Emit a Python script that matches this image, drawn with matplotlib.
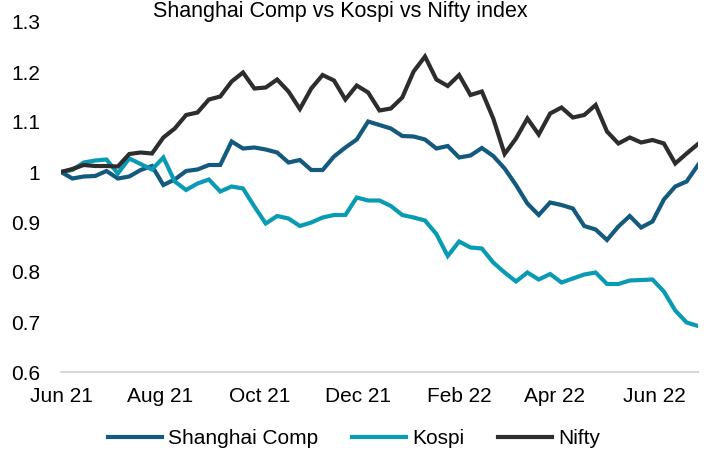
import matplotlib
matplotlib.use("Agg")
import matplotlib.pyplot as plt
import pandas as pd

# weekly closes, rebased to 1 at the first week
start = "2021-06-04"
shanghai = [1.000, 0.987, 0.991, 0.992, 1.002, 0.987, 0.991, 1.004, 1.012, 0.974,
            0.985, 1.002, 1.005, 1.014, 1.014, 1.061, 1.047, 1.049, 1.045, 1.039,
            1.019, 1.024, 1.004, 1.004, 1.031, 1.049, 1.065, 1.101, 1.094, 1.087,
            1.072, 1.071, 1.065, 1.047, 1.052, 1.029, 1.033, 1.048, 1.032, 1.007,
            0.974, 0.937, 0.914, 0.939, 0.934, 0.927, 0.892, 0.885, 0.864, 0.891,
            0.912, 0.889, 0.901, 0.945, 0.971, 0.981, 1.014]
kospi = [1.000, 1.004, 1.019, 1.023, 1.025, 0.997, 1.027, 1.016, 1.005, 1.029,
         0.981, 0.964, 0.977, 0.985, 0.961, 0.971, 0.967, 0.931, 0.897, 0.912,
         0.907, 0.892, 0.899, 0.909, 0.914, 0.914, 0.949, 0.943, 0.943, 0.932,
         0.914, 0.909, 0.903, 0.876, 0.832, 0.861, 0.849, 0.847, 0.819, 0.799,
         0.781, 0.799, 0.785, 0.796, 0.779, 0.787, 0.795, 0.799, 0.776, 0.776,
         0.783, 0.784, 0.785, 0.761, 0.723, 0.699, 0.692]
nifty = [1.000, 1.006, 1.014, 1.012, 1.012, 1.011, 1.036, 1.039, 1.037, 1.069,
         1.087, 1.114, 1.119, 1.145, 1.151, 1.181, 1.199, 1.167, 1.169, 1.185,
         1.161, 1.126, 1.167, 1.194, 1.183, 1.145, 1.173, 1.159, 1.123, 1.127,
         1.149, 1.201, 1.231, 1.185, 1.172, 1.194, 1.154, 1.161, 1.107, 1.036,
         1.067, 1.107, 1.075, 1.117, 1.129, 1.109, 1.114, 1.134, 1.081, 1.057,
         1.069, 1.059, 1.064, 1.057, 1.017, 1.037, 1.056]

dates = pd.date_range(start, periods=len(nifty), freq="7D")
tick_dates = [dates[0] + pd.DateOffset(months=2 * k) for k in range(7)]
tick_labels = [d.strftime("%b %y") for d in tick_dates]
yticks = [0.6, 0.7, 0.8, 0.9, 1.0, 1.1, 1.2, 1.3]
ylabels = ["0.6", "0.7", "0.8", "0.9", "1", "1.1", "1.2", "1.3"]

plt.rcParams["font.family"] = ["Liberation Sans", "DejaVu Sans"]

fig = plt.figure(figsize=(7.05, 4.5), dpi=100)
ax = fig.add_axes([61 / 705, 1 - 372 / 450, 637 / 705, 350 / 450])

ax.plot(dates, shanghai, color="#135a7e", lw=3, label="Shanghai Comp", solid_joinstyle="miter")
ax.plot(dates, kospi, color="#0a9bb4", lw=3, label="Kospi", solid_joinstyle="miter")
ax.plot(dates, nifty, color="#2d2d2d", lw=3, label="Nifty", solid_joinstyle="miter")

ax.set_xlim(dates[0], dates[-1])
ax.set_ylim(0.6, 1.3)
ax.set_xticks(tick_dates)
ax.set_xticklabels(tick_labels)
ax.set_yticks(yticks)
ax.set_yticklabels(ylabels)
ax.tick_params(axis="both", length=0, labelsize=15, colors="black")
ax.tick_params(axis="x", pad=11)
ax.tick_params(axis="y", pad=15)

for s in ["top", "right", "left"]:
    ax.spines[s].set_visible(False)
ax.spines["bottom"].set_color("#d9d9d9")
ax.spines["bottom"].set_linewidth(1.5)

fig.text(340 / 705, 1 - 17 / 450, "Shanghai Comp vs Kospi vs Nifty index",
         ha="center", va="baseline", fontsize=15.5)

fig.legend(loc="center", bbox_to_anchor=(354 / 705, 1 - 439 / 450), ncol=3,
           frameon=False, fontsize=15, handlelength=2.6, handletextpad=0.3,
           columnspacing=1.6, borderaxespad=0)

fig.savefig("out.png", dpi=100)
